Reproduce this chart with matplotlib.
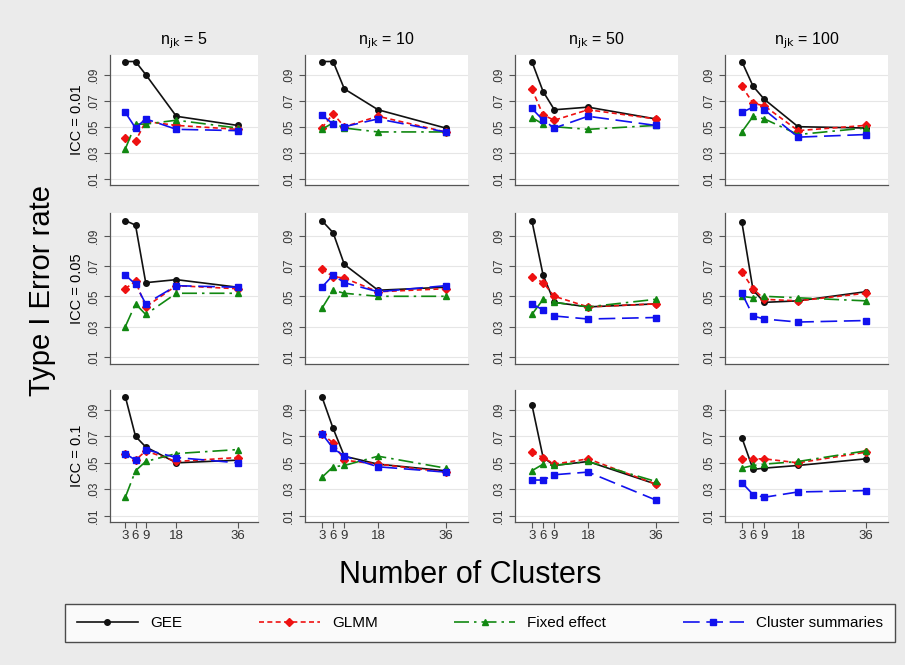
import matplotlib
matplotlib.use("Agg")
import matplotlib.pyplot as plt
import numpy as np

################## DATA ######################
clusters = [3, 6, 9, 18, 36]
njk = [5, 10, 50, 100]
icc_labels = ["ICC = 0.01", "ICC = 0.05", "ICC = 0.1"]
method_names = ["GEE", "GLMM", "Fixed effect", "Cluster summaries"]

# rows = ICC, columns = n_jk, each list = error rate at 3, 6, 9, 18, 36 clusters
gee = [
    [[.100, .100, .090, .058, .051], [.100, .100, .079, .063, .049],
     [.100, .077, .063, .065, .056], [.100, .081, .071, .050, .049]],
    [[.100, .097, .059, .061, .056], [.100, .092, .071, .054, .056],
     [.100, .064, .046, .043, .045], [.099, .054, .046, .047, .053]],
    [[.100, .070, .062, .050, .052], [.100, .076, .055, .049, .044],
     [.094, .054, .048, .051, .034], [.069, .045, .046, .048, .053]],
]
glmm = [
    [[.041, .039, .054, .051, .048], [.049, .060, .050, .058, .046],
     [.079, .059, .055, .063, .056], [.081, .068, .066, .047, .051]],
    [[.055, .060, .043, .057, .055], [.068, .063, .062, .053, .055],
     [.063, .059, .050, .043, .045], [.066, .055, .048, .047, .052]],
    [[.057, .052, .059, .051, .054], [.072, .065, .052, .049, .043],
     [.058, .054, .049, .053, .034], [.053, .053, .053, .050, .058]],
]
fixed = [
    [[.033, .052, .052, .055, .049], [.048, .053, .049, .046, .046],
     [.057, .052, .050, .048, .051], [.046, .058, .056, .044, .049]],
    [[.030, .045, .038, .052, .052], [.042, .054, .052, .050, .050],
     [.038, .048, .046, .043, .048], [.050, .049, .050, .049, .047]],
    [[.024, .044, .051, .057, .060], [.039, .047, .048, .055, .046],
     [.044, .049, .048, .051, .036], [.046, .048, .049, .051, .059]],
]
summ = [
    [[.061, .049, .056, .048, .047], [.059, .052, .050, .056, .046],
     [.064, .055, .049, .058, .051], [.061, .065, .063, .042, .044]],
    [[.064, .058, .045, .057, .056], [.056, .064, .059, .053, .057],
     [.045, .041, .037, .035, .036], [.052, .037, .035, .033, .034]],
    [[.057, .052, .060, .054, .050], [.072, .061, .055, .047, .043],
     [.037, .037, .041, .043, .022], [.035, .026, .024, .028, .029]],
]

################## STYLE ######################
W, H = 905, 665
bg = "#ebebeb"
styles = [
    dict(color="#111111", ls="-", marker="o", ms=4.0),
    dict(color="#ee1111", ls=(0, (3, 2)), marker="D", ms=4.0),
    dict(color="#118811", ls=(0, (9, 3, 1.5, 3)), marker="^", ms=4.5),
    dict(color="#1111ee", ls=(0, (10, 4)), marker="s", ms=4.0),
]
col_px = [(110, 258), (305, 468), (515, 678), (725, 888)]
row_px = [(55, 185), (213, 364), (390, 522)]

plt.rcParams["font.family"] = ["Liberation Sans", "DejaVu Sans"]

fig = plt.figure(figsize=(W / 100, H / 100), dpi=100, facecolor=bg)

handles = []
for r, (y0, y1) in enumerate(row_px):
    for c, (x0, x1) in enumerate(col_px):
        ax = fig.add_axes([x0 / W, 1 - y1 / H, (x1 - x0) / W, (y1 - y0) / H])
        ax.set_facecolor("white")
        for spine in ["top", "right"]:
            ax.spines[spine].set_visible(False)
        for spine in ["left", "bottom"]:
            ax.spines[spine].set_color("#555555")
            ax.spines[spine].set_linewidth(0.9)
        ax.set_ylim(0.0053, 0.105)
        ax.set_xlim(-1.5, 42)
        ax.set_yticks([.01, .03, .05, .07, .09])
        ax.set_yticklabels([".01", ".03", ".05", ".07", ".09"], rotation=90,
                           va="center", fontsize=8.5, color="#333333")
        ax.grid(axis="y", color="#e6e6e6", lw=0.8)
        ax.set_axisbelow(True)
        ax.tick_params(axis="y", length=4, color="#555555", pad=3)
        if r == 2:
            ax.set_xticks(clusters)
            ax.set_xticklabels([str(v) for v in clusters], fontsize=9.5, color="#333333")
            ax.tick_params(axis="x", length=4, color="#555555", pad=2)
        else:
            ax.set_xticks([])
        for k, data in enumerate([gee, glmm, fixed, summ]):
            st = styles[k]
            h, = ax.plot(clusters, data[r][c], color=st["color"], ls=st["ls"],
                         lw=1.2, marker=st["marker"], ms=st["ms"],
                         markeredgecolor=st["color"])
            if r == 0 and c == 0:
                handles.append(h)
        if r == 0:
            ax.set_title(r"n$_{\mathrm{jk}}$ = %d" % njk[c], fontsize=11.5, pad=8)
        if c == 0:
            fig.text(77 / W, 1 - ((y0 + y1) / 2) / H, icc_labels[r], rotation=90,
                     ha="center", va="center", fontsize=10.5)

fig.text(42 / W, 1 - 290 / H, "Type I Error rate", rotation=90,
         ha="center", va="center", fontsize=21)
fig.text(470 / W, 1 - 575 / H, "Number of Clusters",
         ha="center", va="center", fontsize=22)

leg = fig.legend(handles, method_names, loc="center",
                 bbox_to_anchor=(480 / W, 1 - 623 / H), ncol=4,
                 fontsize=11, handlelength=4.0, columnspacing=5.0,
                 frameon=True, fancybox=False, borderpad=0.8)
leg.get_frame().set_edgecolor("#222222")
leg.get_frame().set_linewidth(1.0)
leg.get_frame().set_facecolor("white")

fig.savefig("out.png", dpi=100, facecolor=bg)
